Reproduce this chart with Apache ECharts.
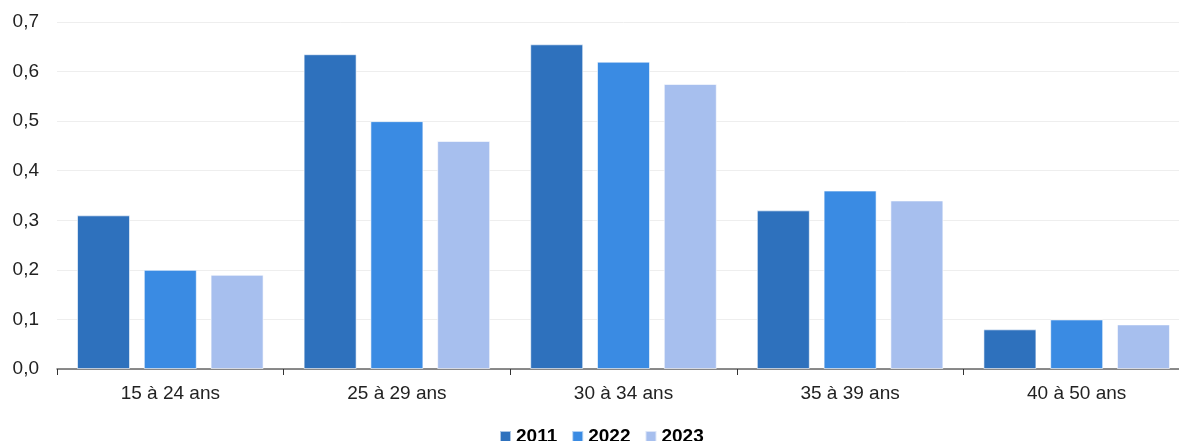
<!DOCTYPE html>
<html><head><meta charset="utf-8">
<script src="https://cdn.jsdelivr.net/npm/echarts@6/dist/echarts.min.js"></script>
<style>html,body{margin:0;padding:0;background:#fff;overflow:hidden}#c{width:1190px;height:441px}</style>
</head><body><div id="c"></div>
<script>
const categories = ['15 à 24 ans', '25 à 29 ans', '30 à 34 ans', '35 à 39 ans', '40 à 50 ans'];
const s2011 = [0.31, 0.635, 0.655, 0.32, 0.08];
const s2022 = [0.20, 0.50, 0.62, 0.36, 0.10];
const s2023 = [0.19, 0.46, 0.575, 0.34, 0.09];
const seriesNames = ['2011', '2022', '2023'];
const colors = ['#2E71BD', '#3A8BE3', '#A7BFEE'];
const chart = echarts.init(document.getElementById('c'), null, {renderer: 'canvas'});
const mk = (name, data, i) => ({
  name, type: 'bar', data, barWidth: 53, barGap: '26%',
  itemStyle: {color: colors[i], borderColor: 'rgba(255,255,255,0.6)', borderWidth: 1},
  emphasis: {disabled: true}
});
chart.setOption({
  animation: false,
  grid: {left: 57, right: 0, top: 22, bottom: 72, containLabel: false},
  legend: {
    top: 422, left: 494, itemWidth: 11, itemHeight: 11, itemGap: 14,
    icon: 'rect',
    textStyle: {fontFamily: 'Liberation Sans, Arial', fontSize: 19, fontWeight: 'bold', color: '#000'},
    data: seriesNames
  },
  xAxis: {
    type: 'category', data: categories,
    axisLine: {lineStyle: {color: '#666', width: 1.5}},
    axisTick: {show: true, length: 6, lineStyle: {color: '#333'}},
    axisLabel: {fontFamily: 'Liberation Sans, Arial', fontSize: 19, color: '#222', margin: 15}
  },
  yAxis: {
    type: 'value', min: 0, max: 0.7, interval: 0.1,
    axisLabel: {fontFamily: 'Liberation Sans, Arial', fontSize: 19, color: '#222', margin: 18,
      formatter: v => v.toFixed(1).replace('.', ',')},
    splitLine: {lineStyle: {color: '#eeeeee'}},
    axisLine: {show: false}, axisTick: {show: false}
  },
  series: [mk(seriesNames[0], s2011, 0), mk(seriesNames[1], s2022, 1), mk(seriesNames[2], s2023, 2)]
});
</script></body></html>
